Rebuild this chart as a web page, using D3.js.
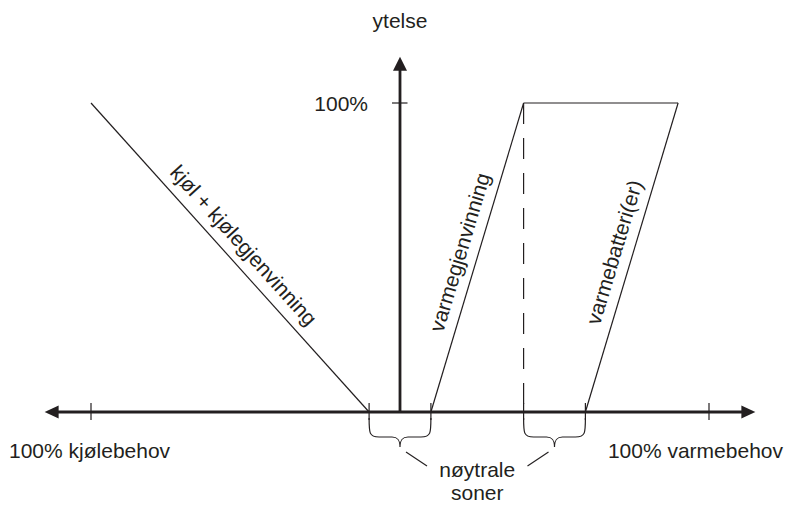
<!DOCTYPE html>
<html>
<head>
<meta charset="utf-8">
<script src="https://cdn.jsdelivr.net/npm/d3@7"></script>
<style>
  html, body { margin: 0; padding: 0; background: #fff; }
  svg { display: block; font-family: "Liberation Sans", Arial, sans-serif; }
</style>
</head>
<body>
<svg id="chart" width="800" height="505"></svg>
<script>
// demand axis: -100 = full cooling, +100 = full heating
const xTicks = [-100, -10, 10, 40, 60, 100];
const yTicks = [100];
const xExtent = [-115, 115];
const yExtent = [0, 115];

// output lines (demand, output %)
const coolingLine = [[-100, 100], [-10, 0]];
const recoveryLine = [[10, 0], [40, 100]];
const topLine = [[40, 100], [90, 100]];
const batteryLine = [[60, 0], [90, 100]];
const dashedLine = [[40, 100], [40, 0]];

const neutralZones = [[-10, 10], [40, 60]];

const lineLabels = [
  { text: "kjøl + kjølegjenvinning", line: coolingLine },
  { text: "varmegjenvinning", line: recoveryLine },
  { text: "varmebatteri(er)", line: batteryLine }
];

const ink = "#231f20";
const fontSize = 21;

const svg = d3.select("#chart");

const x = d3.scaleLinear().domain([-100, 100]).range([91, 709]);
const y = d3.scaleLinear().domain([0, 100]).range([412, 103]);

const line = d3.line()
  .x((d) => x(d[0]))
  .y((d) => y(d[1]));

// axes
const arrowLen = 14;
const arrowHalf = 6.5;

svg.append("line")
  .attr("x1", x(xExtent[0]) + arrowLen - 1)
  .attr("x2", x(xExtent[1]) - arrowLen + 1)
  .attr("y1", y(0))
  .attr("y2", y(0))
  .attr("stroke", ink)
  .attr("stroke-width", 2.8);

svg.append("line")
  .attr("x1", x(0))
  .attr("x2", x(0))
  .attr("y1", y(0) + 1)
  .attr("y2", y(yExtent[1]) + arrowLen - 1)
  .attr("stroke", ink)
  .attr("stroke-width", 2.8);

const arrows = [
  [[x(xExtent[0]), y(0)], [x(xExtent[0]) + arrowLen, y(0) - arrowHalf], [x(xExtent[0]) + arrowLen, y(0) + arrowHalf]],
  [[x(xExtent[1]), y(0)], [x(xExtent[1]) - arrowLen, y(0) - arrowHalf], [x(xExtent[1]) - arrowLen, y(0) + arrowHalf]],
  [[x(0), y(yExtent[1])], [x(0) - arrowHalf - 0.5, y(yExtent[1]) + arrowLen], [x(0) + arrowHalf + 0.5, y(yExtent[1]) + arrowLen]]
];

svg.selectAll("polygon.arrow")
  .data(arrows)
  .join("polygon")
  .attr("class", "arrow")
  .attr("points", (d) => d.map((p) => p.join(",")).join(" "))
  .attr("fill", ink);

// ticks
svg.selectAll("line.xtick")
  .data(xTicks)
  .join("line")
  .attr("class", "xtick")
  .attr("x1", (d) => x(d))
  .attr("x2", (d) => x(d))
  .attr("y1", y(0) - 9)
  .attr("y2", y(0) + 8)
  .attr("stroke", ink)
  .attr("stroke-width", 1.2);

svg.selectAll("line.ytick")
  .data(yTicks)
  .join("line")
  .attr("class", "ytick")
  .attr("x1", x(0) - 8)
  .attr("x2", x(0) + 7.5)
  .attr("y1", (d) => y(d))
  .attr("y2", (d) => y(d))
  .attr("stroke", ink)
  .attr("stroke-width", 1.2);

svg.selectAll("text.ytick")
  .data(yTicks)
  .join("text")
  .attr("class", "ytick")
  .attr("x", x(0) - 32)
  .attr("y", (d) => y(d) + 8)
  .attr("text-anchor", "end")
  .attr("font-size", fontSize)
  .attr("fill", ink)
  .text((d) => d + "%");

// output lines
[coolingLine, recoveryLine, topLine, batteryLine].forEach((d) => {
  svg.append("path")
    .attr("d", line(d))
    .attr("fill", "none")
    .attr("stroke", ink)
    .attr("stroke-width", 1.2);
});

svg.append("path")
  .attr("d", line(dashedLine))
  .attr("fill", "none")
  .attr("stroke", ink)
  .attr("stroke-width", 1.2)
  .attr("stroke-dasharray", "21,14");

// labels along lines
lineLabels.forEach((l) => {
  const x1 = x(l.line[0][0]), y1 = y(l.line[0][1]);
  const x2 = x(l.line[1][0]), y2 = y(l.line[1][1]);
  let angle = Math.atan2(y2 - y1, x2 - x1) * 180 / Math.PI;
  if (angle < -90) angle += 180;
  if (angle > 90) angle -= 180;
  svg.append("text")
    .attr("transform", `translate(${(x1 + x2) / 2},${(y1 + y2) / 2}) rotate(${angle})`)
    .attr("y", -11)
    .attr("text-anchor", "middle")
    .attr("font-size", fontSize)
    .attr("fill", ink)
    .text(l.text);
});

// axis titles
svg.append("text")
  .attr("x", x(0))
  .attr("y", 28)
  .attr("text-anchor", "middle")
  .attr("font-size", fontSize)
  .attr("fill", ink)
  .text("ytelse");

svg.append("text")
  .attr("x", 9)
  .attr("y", 458)
  .attr("font-size", fontSize)
  .attr("fill", ink)
  .text("100% kjølebehov");

svg.append("text")
  .attr("x", 783)
  .attr("y", 458)
  .attr("text-anchor", "end")
  .attr("font-size", fontSize)
  .attr("fill", ink)
  .text("100% varmebehov");

// neutral zone braces
const braceTop = y(0) + 6;
const braceMid = y(0) + 25;
const braceTip = y(0) + 35;

const bracePath = (x1, x2) => {
  const xm = (x1 + x2) / 2;
  return `M${x1},${braceTop} C${x1},${braceMid - 4} ${x1},${braceMid} ${x1 + 10},${braceMid}` +
    ` L${xm - 8},${braceMid} C${xm - 2},${braceMid} ${xm},${braceMid + 3} ${xm},${braceTip}` +
    ` C${xm},${braceMid + 3} ${xm + 2},${braceMid} ${xm + 8},${braceMid}` +
    ` L${x2 - 10},${braceMid} C${x2},${braceMid} ${x2},${braceMid - 4} ${x2},${braceTop}`;
};

svg.selectAll("path.brace")
  .data(neutralZones)
  .join("path")
  .attr("class", "brace")
  .attr("d", (d) => bracePath(x(d[0]), x(d[1])))
  .attr("fill", "none")
  .attr("stroke", ink)
  .attr("stroke-width", 1.2);

const labelX = (x((neutralZones[0][0] + neutralZones[0][1]) / 2) + x((neutralZones[1][0] + neutralZones[1][1]) / 2)) / 2;

// short connectors from brace tips towards the label
neutralZones.forEach((d, i) => {
  const xm = x((d[0] + d[1]) / 2);
  const s = i === 0 ? 1 : -1;
  svg.append("line")
    .attr("x1", xm + s * 6)
    .attr("y1", braceTip + 5)
    .attr("x2", xm + s * 27)
    .attr("y2", braceTip + 19)
    .attr("stroke", ink)
    .attr("stroke-width", 1.2);
});

svg.append("text")
  .attr("x", labelX)
  .attr("y", 477)
  .attr("text-anchor", "middle")
  .attr("font-size", fontSize)
  .attr("fill", ink)
  .text("nøytrale");

svg.append("text")
  .attr("x", labelX)
  .attr("y", 500)
  .attr("text-anchor", "middle")
  .attr("font-size", fontSize)
  .attr("fill", ink)
  .text("soner");
</script>
</body>
</html>
